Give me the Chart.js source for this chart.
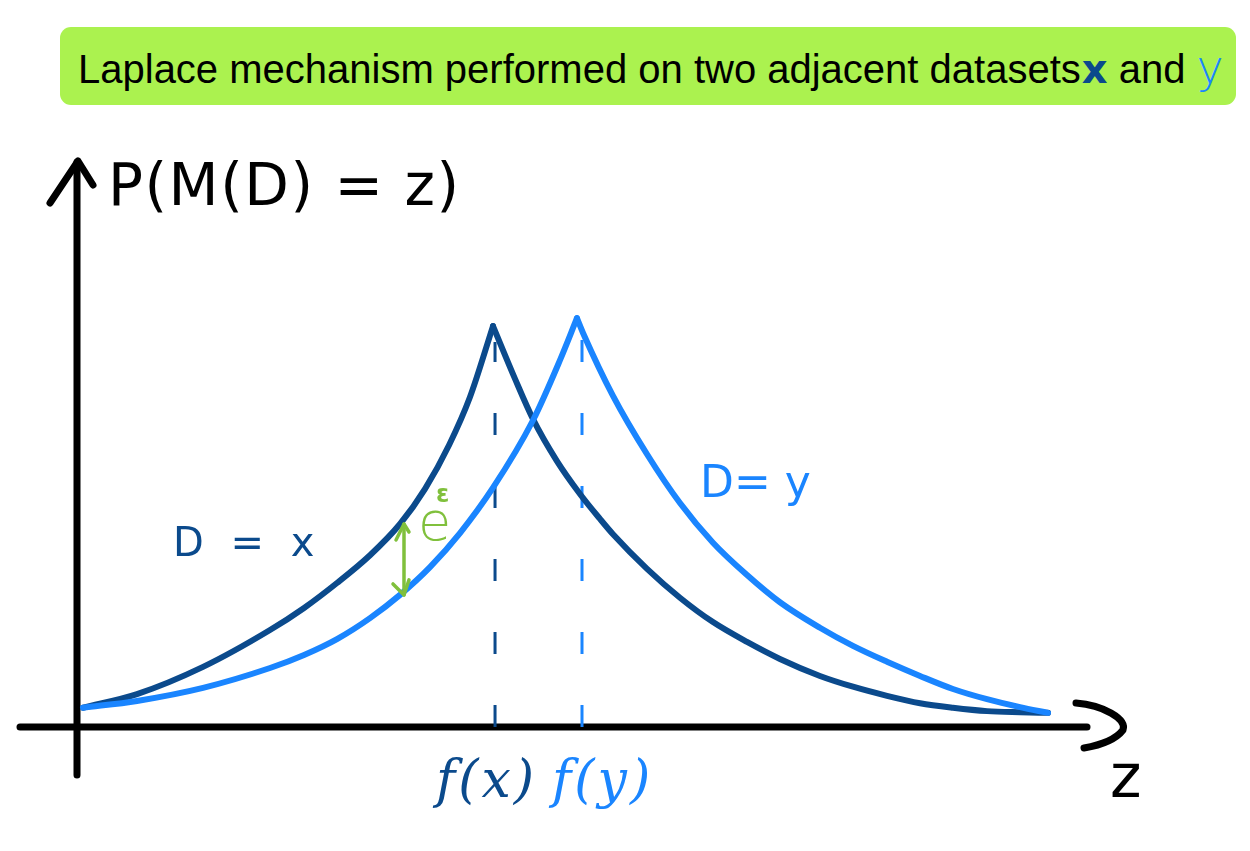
<!DOCTYPE html>
<html>
<head>
<meta charset="utf-8">
<script src="https://cdn.jsdelivr.net/npm/chart.js@4/dist/chart.umd.min.js"></script>
<style>
  html, body { margin: 0; padding: 0; background: #ffffff; }
  #wrap { position: relative; width: 1250px; height: 851px; overflow: hidden; background: #fff; }
  #c { position: absolute; left: 0; top: 0; }
  .lbl { position: absolute; line-height: 1; white-space: nowrap; }
  #titlebox { position: absolute; left: 60px; top: 27px; width: 1176px; height: 78px; background: #abf24f; border-radius: 11px; }
  #title { position: absolute; left: 18px; top: 17px; font-family: "Liberation Sans", Arial, sans-serif; font-size: 40px; line-height: 1; color: #000; white-space: nowrap; }
  .hand { font-family: "DejaVu Sans", sans-serif; font-weight: normal; }
</style>
</head>
<body>
<div id="wrap">
  <canvas id="c" width="1250" height="851"></canvas>
  <div id="titlebox"><div id="title">Laplace mechanism performed on two adjacent datasets<span style="color:#0b4a8c;font-weight:bold;font-family:'DejaVu Sans';margin-left:1px">x</span> and <span style="color:#1a85ff;font-family:'DejaVu Sans';font-weight:200;font-size:46px">y</span></div></div>
  <div class="lbl hand" style="left:108px;top:156px;font-size:58px;color:#000;letter-spacing:1.5px;">P(M(D) = z)</div>
  <div class="lbl hand" style="left:173px;top:522px;font-size:40px;color:#0b4a8c;letter-spacing:7px;">D = x</div>
  <div class="lbl hand" style="left:700px;top:460px;font-size:44px;color:#1a85ff;">D= y</div>
  <div class="lbl hand" style="left:418px;top:495px;font-size:54px;color:#80c03c;font-weight:200;">e</div>
  <div class="lbl" style="left:436px;top:482px;font-size:24px;color:#80c03c;font-family:'DejaVu Sans';font-weight:bold;">ε</div>
  <div class="lbl" style="left:436px;top:753px;font-size:52px;color:#0b4a8c;font-family:'DejaVu Serif';font-style:italic;letter-spacing:3px;">f(x)</div>
  <div class="lbl" style="left:552px;top:753px;font-size:52px;color:#1a85ff;font-family:'DejaVu Serif';font-style:italic;letter-spacing:3px;">f(y)</div>
  <div class="lbl hand" style="left:1110px;top:746px;font-size:60px;color:#000;">z</div>
</div>
<script>
// ---- data (z in arbitrary units 0..10, P in 0..1) ----
const zDark = [0.059, 0.594, 1.248, 1.911, 2.248, 2.574, 2.901, 3.198, 3.446, 3.683, 3.891, 4.119, 4.337, 4.515, 4.752, 4.980, 5.178, 5.307, 5.644, 5.970, 6.297, 6.634, 6.960, 7.356, 7.683, 8.020, 8.347, 8.673, 9.010, 9.337, 9.614];
const pDark = [0.034, 0.058, 0.106, 0.171, 0.210, 0.254, 0.303, 0.358, 0.420, 0.497, 0.582, 0.707, 0.614, 0.543, 0.469, 0.411, 0.367, 0.340, 0.279, 0.228, 0.185, 0.150, 0.120, 0.090, 0.071, 0.055, 0.042, 0.034, 0.028, 0.026, 0.025];
const zLight = [0.059, 0.594, 1.248, 1.911, 2.248, 2.574, 2.901, 3.198, 3.495, 3.792, 4.119, 4.515, 4.782, 4.950, 5.010, 5.307, 5.644, 5.970, 6.297, 6.634, 6.960, 7.356, 7.683, 8.020, 8.347, 8.673, 9.010, 9.337, 9.614];
const pLight = [0.034, 0.046, 0.069, 0.104, 0.127, 0.155, 0.192, 0.233, 0.282, 0.342, 0.422, 0.541, 0.647, 0.721, 0.695, 0.584, 0.481, 0.395, 0.325, 0.268, 0.220, 0.175, 0.143, 0.115, 0.090, 0.067, 0.049, 0.035, 0.025];
const markerZ = [4.139, 5.000];      // f(x), f(y)
const markerTop = [0.679, 0.695];
const epsZ = 3.198;                  // where the e^eps arrow is drawn

const DARK = '#0b4a8c', LIGHT = '#1a85ff', GREEN = '#80c03c';

function pts(z, p) { return z.map((v, i) => ({ x: v, y: p[i] })); }
function halves(z, p) {
  const k = p.indexOf(Math.max(...p));
  const all = pts(z, p);
  return [all.slice(0, k + 1), all.slice(k)];
}
const [dL, dR] = halves(zDark, pDark);
const [lL, lR] = halves(zLight, pLight);

const curve = (data, color, order) => ({
  data, borderColor: color, borderWidth: 6, pointRadius: 0, fill: false,
  cubicInterpolationMode: 'monotone', borderCapStyle: 'round', borderJoinStyle: 'round',
  clip: false, order
});
const dash = (i, color) => ({
  data: [{ x: markerZ[i], y: 0 }, { x: markerZ[i], y: markerTop[i] }],
  borderColor: color, borderWidth: 3, borderDash: [22, 51], pointRadius: 0, fill: false,
  clip: false, order: 5
});

const axesPlugin = {
  id: 'handAxes',
  beforeDatasetsDraw(chart) {
    const ctx = chart.ctx, ca = chart.chartArea;
    const xs = chart.scales.x, ys = chart.scales.y;
    const x0 = xs.getPixelForValue(0), y0 = ys.getPixelForValue(0);
    ctx.save();
    ctx.strokeStyle = '#000'; ctx.lineWidth = 7; ctx.lineCap = 'round'; ctx.lineJoin = 'round';
    // x axis
    ctx.beginPath(); ctx.moveTo(ca.left - 57, y0); ctx.lineTo(ca.right, y0); ctx.stroke();
    ctx.beginPath(); ctx.moveTo(ca.right - 11, y0 - 24);
    ctx.bezierCurveTo(ca.right + 16, y0 - 22, ca.right + 40, y0 - 8, ca.right + 36, y0 + 3);
    ctx.quadraticCurveTo(ca.right + 26, y0 + 16, ca.right - 3, y0 + 21);
    ctx.stroke();
    // y axis
    ctx.beginPath(); ctx.moveTo(x0, ca.top + 2); ctx.lineTo(x0, y0 + 48); ctx.stroke();
    ctx.beginPath(); ctx.moveTo(x0 - 27, ca.top + 43); ctx.lineTo(x0 + 1, ca.top + 1); ctx.lineTo(x0 + 16, ca.top + 25); ctx.stroke();
    ctx.restore();
  },
  afterDatasetsDraw(chart) {
    const ctx = chart.ctx;
    const xs = chart.scales.x, ys = chart.scales.y;
    const ex = xs.getPixelForValue(epsZ) + 4;
    const yTop = ys.getPixelForValue(pDark[zDark.indexOf(epsZ)]);
    const yBot = ys.getPixelForValue(pLight[zLight.indexOf(epsZ)]);
    ctx.save();
    ctx.strokeStyle = GREEN; ctx.lineWidth = 3.5; ctx.lineCap = 'round'; ctx.lineJoin = 'round';
    ctx.beginPath(); ctx.moveTo(ex, yTop); ctx.lineTo(ex, yBot); ctx.stroke();
    ctx.beginPath(); ctx.moveTo(ex - 8, yTop + 16); ctx.lineTo(ex, yTop); ctx.lineTo(ex + 5, yTop + 8); ctx.stroke();
    ctx.beginPath(); ctx.moveTo(ex - 11, yBot - 11); ctx.lineTo(ex, yBot); ctx.lineTo(ex + 5, yBot - 15); ctx.stroke();
    ctx.restore();
  }
};

new Chart(document.getElementById('c'), {
  type: 'line',
  data: {
    datasets: [
      curve(lL, LIGHT, 1), curve(lR, LIGHT, 1),
      curve(dL, DARK, 2), curve(dR, DARK, 2),
      dash(0, DARK), dash(1, LIGHT)
    ]
  },
  options: {
    responsive: false, animation: false, devicePixelRatio: 1,
    layout: { padding: { left: 77, right: 163, top: 160, bottom: 124 } },
    plugins: { legend: { display: false }, tooltip: { enabled: false }, title: { display: false } },
    scales: {
      x: { type: 'linear', min: 0, max: 10, display: false },
      y: { type: 'linear', min: 0, max: 1, display: false }
    }
  },
  plugins: [axesPlugin]
});
</script>
</body>
</html>
